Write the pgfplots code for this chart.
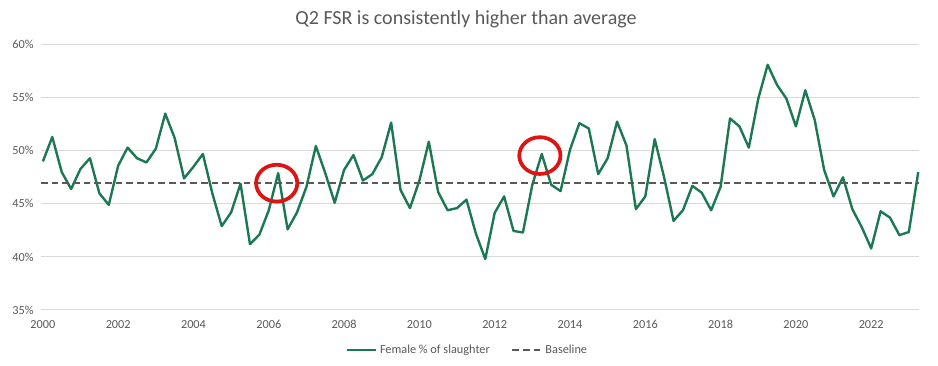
\documentclass[border=0pt]{standalone}
\usepackage{pgfplots}
\pgfplotsset{compat=1.18}
\usepackage{fontspec}
\setmainfont{Carlito}
\definecolor{txtgray}{HTML}{595959}
\definecolor{gridgray}{HTML}{D9D9D9}
\definecolor{fsrgreen}{RGB}{28,120,82}
\definecolor{circred}{RGB}{222,20,20}
\begin{document}
\begin{tikzpicture}
\useasboundingbox (0,0) rectangle (703.5pt,274.5pt);
\node[anchor=base, text=txtgray, font=\fontsize{15}{17}\selectfont] at (349.5pt,256pt) {Q2 FSR is consistently higher than average};
\begin{axis}[
  at={(30.75pt,42pt)}, anchor=south west,
  scale only axis, width=658.5pt, height=199pt,
  xmin=1999.95, xmax=2023.27, ymin=35, ymax=60,
  axis line style={draw=none},
  tick style={draw=none},
  ymajorgrids, grid style={gridgray, line width=0.75pt},
  xtick={2000,2002,...,2022},
  ytick={35,40,...,60},
  xticklabel style={/pgf/number format/1000 sep={}},
  yticklabel={\pgfmathprintnumber{\tick}\%},
  /pgf/number format/assume math mode=true,
  ticklabel style={text=txtgray, font=\fontsize{9.2}{11}\selectfont},
  yticklabel style={xshift=-2pt},
  xticklabel style={yshift=-4pt},
  clip=false,
  legend columns=2,
  legend style={draw=none, fill=none, at={(0.486,-0.151)}, anchor=center,
    font=\fontsize{9.2}{11}\selectfont, text=txtgray,
    /tikz/every even column/.append style={column sep=14pt}},
  legend image code/.code={\draw[#1] (0pt,0pt) -- (22pt,0pt);},
]
\addplot[fsrgreen, line width=1.8pt, line join=round] table {
2000.00 49.0
2000.25 51.3
2000.50 48.0
2000.75 46.4
2001.00 48.3
2001.25 49.3
2001.50 46.0
2001.75 44.9
2002.00 48.6
2002.25 50.3
2002.50 49.3
2002.75 48.9
2003.00 50.2
2003.25 53.5
2003.50 51.2
2003.75 47.4
2004.00 48.5
2004.25 49.7
2004.50 46.0
2004.75 42.9
2005.00 44.2
2005.25 46.9
2005.50 41.2
2005.75 42.1
2006.00 44.4
2006.25 47.9
2006.50 42.6
2006.75 44.2
2007.00 46.6
2007.25 50.45
2007.50 47.9
2007.75 45.1
2008.00 48.2
2008.25 49.6
2008.50 47.2
2008.75 47.8
2009.00 49.4
2009.25 52.65
2009.50 46.3
2009.75 44.6
2010.00 47.2
2010.25 50.85
2010.50 46.1
2010.75 44.4
2011.00 44.6
2011.25 45.4
2011.50 42.2
2011.75 39.8
2012.00 44.15
2012.25 45.7
2012.50 42.45
2012.75 42.3
2013.00 46.8
2013.25 49.7
2013.50 46.8
2013.75 46.2
2014.00 50.1
2014.25 52.6
2014.50 52.1
2014.75 47.8
2015.00 49.3
2015.25 52.75
2015.50 50.5
2015.75 44.5
2016.00 45.7
2016.25 51.1
2016.50 47.5
2016.75 43.4
2017.00 44.4
2017.25 46.7
2017.50 46.05
2017.75 44.4
2018.00 46.6
2018.25 53.05
2018.50 52.3
2018.75 50.3
2019.00 54.9
2019.25 58.1
2019.50 56.2
2019.75 54.9
2020.00 52.3
2020.25 55.7
2020.50 52.9
2020.75 48.2
2021.00 45.7
2021.25 47.5
2021.50 44.5
2021.75 42.8
2022.00 40.8
2022.25 44.3
2022.50 43.7
2022.75 42.05
2023.00 42.35
2023.25 48.0
};
\addlegendentry{Female \% of slaughter}
\addplot[txtgray, line width=1.7pt, dash pattern=on 5pt off 3pt] table {
1999.95 47.0
2023.27 47.0
};
\addlegendentry{Baseline}
\addplot[only marks, mark=o, mark size=13.8pt, mark options={circred, line width=2.8pt, xscale=1.12}, forget plot] table {
2006.21 46.95
2013.20 49.55
};
\end{axis}
\end{tikzpicture}
\end{document}
